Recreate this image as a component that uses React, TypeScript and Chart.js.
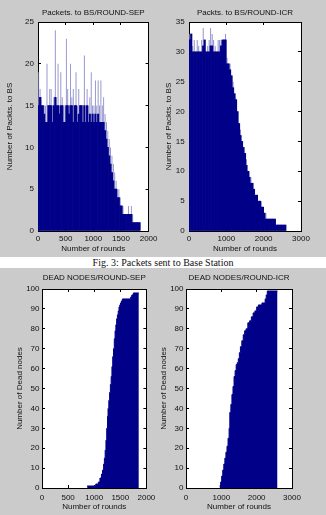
import React, { useEffect, useRef } from "react";
import { Chart, registerables } from "chart.js";

Chart.register(...registerables);

// ---------------- data ----------------
// Packets to BS per round, SEP (bins of 25 rounds; darkest = lowest count in bin, light = highest)
const sepBinStart = [
  0, 25, 50, 75, 100, 125, 150, 175, 200, 225,
  250, 275, 300, 325, 350, 375, 400, 425, 450, 475,
  500, 525, 550, 575, 600, 625, 650, 675, 700, 725,
  750, 775, 800, 825, 850, 875, 900, 925, 950, 975,
  1000, 1025, 1050, 1075, 1100, 1125, 1150, 1175, 1200, 1225,
  1250, 1275, 1300, 1325, 1350, 1375, 1400, 1425, 1450, 1475,
  1500, 1525, 1550, 1575, 1600, 1625, 1650, 1675, 1700, 1725,
  1750, 1775, 1800, 1825,
];
const sepPacketsMin = [
  15, 16, 15, 15, 14, 13, 13, 15, 15, 15,
  13, 15, 16, 15, 15, 14, 15, 15, 13, 13,
  15, 15, 14, 15, 15, 13, 15, 15, 13, 14,
  15, 15, 13, 15, 13, 15, 13, 14, 13, 14,
  13, 14, 13, 14, 13, 13, 13, 13, 12, 11,
  10, 9, 8, 7, 6, 5, 5, 4, 4, 3,
  3, 2, 2, 2, 2, 2, 2, 2, 1, 1,
  1, 1, 1, 1,
];
const sepPacketsMax = [
  19, 17, 16, 15, 15, 15, 20, 15, 17, 17,
  15, 16, 24, 16, 20, 15, 19, 16, 15, 15,
  23, 17, 15, 20, 16, 17, 15, 19, 15, 17,
  15, 15, 15, 21, 15, 17, 15, 16, 19, 15,
  15, 18, 15, 18, 15, 18, 15, 16, 14, 13,
  12, 11, 10, 9, 8, 7, 6, 5, 5, 4,
  3, 3, 2, 2, 2, 3, 2, 3, 2, 1,
  1, 1, 1, 1,
];
const sepBinWidth = 25;

// Packets to BS per round, ICR (bins of 40 rounds)
const icrBinStart = [
  0, 40, 80, 120, 160, 200, 240, 280, 320, 360,
  400, 440, 480, 520, 560, 600, 640, 680, 720, 760,
  800, 840, 880, 920, 960, 1000, 1040, 1080, 1120, 1160,
  1200, 1240, 1280, 1320, 1360, 1400, 1440, 1480, 1520, 1560,
  1600, 1640, 1680, 1720, 1760, 1800, 1840, 1880, 1920, 1960,
  2000, 2040, 2080, 2120, 2160, 2200, 2240, 2280, 2320, 2360,
  2400, 2440, 2480, 2520, 2560,
];
const icrPacketsMin = [
  32, 33, 30, 30, 30, 30, 30, 30, 30, 31,
  32, 30, 30, 30, 31, 31, 30, 30, 30, 30,
  30, 31, 32, 32, 32, 28, 28, 27, 26, 24,
  23, 22, 20, 18, 16, 15, 14, 13, 11, 10,
  9, 8, 8, 7, 6, 6, 5, 5, 4, 4,
  3, 2, 2, 2, 2, 2, 2, 2, 1, 1,
  1, 1, 1, 1, 1,
];
const icrPacketsMax = [
  33, 33, 31, 32, 30, 32, 31, 30, 32, 34,
  32, 30, 31, 32, 34, 33, 32, 31, 30, 32,
  32, 32, 32, 32, 33, 29, 28, 28, 26, 25,
  23, 22, 20, 18, 17, 15, 14, 13, 12, 10,
  10, 9, 8, 7, 6, 6, 5, 5, 5, 4,
  3, 3, 2, 2, 2, 2, 2, 2, 1, 1,
  1, 1, 1, 1, 1,
];
const icrBinWidth = 40;

// Dead nodes vs round
const sepDeadRounds = [
  865, 1030, 1080, 1110, 1140, 1160, 1180, 1195, 1210, 1225,
  1240, 1255, 1265, 1280, 1295, 1310, 1325, 1340, 1355, 1370,
  1385, 1400, 1415, 1430, 1445, 1460, 1475, 1490, 1505, 1520,
  1540, 1700, 1720, 1750, 1855,
];
const sepDeadNodes = [
  1, 2, 3, 5, 7, 9, 12, 15, 19, 24,
  30, 36, 40, 44, 48, 52, 56, 61, 66, 70,
  75, 79, 82, 85, 87, 89, 91, 92, 93, 94,
  95, 96, 97, 98, 98,
];
const icrDeadRounds = [
  950, 980, 1010, 1040, 1070, 1100, 1130, 1160, 1190, 1220,
  1240, 1270, 1300, 1330, 1360, 1390, 1420, 1450, 1480, 1510,
  1540, 1580, 1620, 1660, 1700, 1750, 1800, 1850, 1900, 1950,
  2000, 2050, 2100, 2150, 2200, 2240, 2270, 2300, 2590,
];
const icrDeadNodes = [
  1, 3, 6, 9, 12, 15, 18, 21, 25, 30,
  38, 42, 47, 51, 56, 59, 62, 63, 65, 68,
  71, 74, 77, 79, 80, 83, 84, 86, 88, 89,
  91, 92, 92, 93, 93, 95, 97, 99, 99,
];

// tick labels
const sepRoundTicks = [0, 500, 1000, 1500, 2000];
const icrRoundTicks = [0, 1000, 2000, 3000];
const sepPacketTicks = [0, 5, 10, 15, 20, 25];
const icrPacketTicks = [0, 5, 10, 15, 20, 25, 30, 35];
const deadTicks = [0, 10, 20, 30, 40, 50, 60, 70, 80, 90, 100];

// ---------------- styles ----------------
const GRAY = "#cbcbcb";
const NAVY = "#000088";
const LIGHT = "#8484c6";
const INK = "#111111";
const SANS = "'Liberation Sans', Arial, Helvetica, sans-serif";
const font8 = { family: SANS, size: 8 };

type Layout = {
  left: number; top: number; w: number; h: number;
  yW: number; y2W: number; x2H: number; xH: number;
  yTickPad: number; yTitlePad: number; xTickPad: number; xTitlePad: number; titlePad: number;
};

type Spec = {
  id: string; title: string; yTitle: string;
  xMax: number; yMax: number; xTicks: number[]; yTicks: number[];
  type: "bar" | "line"; datasets: any[]; layout: Layout;
};

const barSets = (starts: number[], w: number, mins: number[], maxs: number[]) => [
  {
    label: "min",
    data: starts.map((s, i) => ({ x: s + w / 2, y: mins[i] })),
    backgroundColor: NAVY, borderWidth: 0, grouped: false, order: 0,
    barPercentage: 1, categoryPercentage: 1,
  },
  {
    label: "max",
    data: starts.map((s, i) => ({ x: s + w / 2, y: maxs[i] })),
    backgroundColor: LIGHT, borderWidth: 0, grouped: false, order: 1,
    barPercentage: 0.6, categoryPercentage: 1,
  },
];

const stepSet = (rounds: number[], nodes: number[]) => [
  {
    label: "dead",
    data: rounds.map((r, i) => ({ x: r, y: nodes[i] })),
    stepped: true, fill: "origin",
    backgroundColor: NAVY, borderColor: NAVY, borderWidth: 1, pointRadius: 0,
  },
];

const specs: Spec[] = [
  {
    id: "a", title: "Packets. to BS/ROUND-SEP", yTitle: "Number of Packts. to BS",
    xMax: 2000, yMax: 25, xTicks: sepRoundTicks, yTicks: sepPacketTicks, type: "bar",
    datasets: barSets(sepBinStart, sepBinWidth, sepPacketsMin, sepPacketsMax),
    layout: { left: 0, top: 0, w: 163, h: 257, yW: 38, y2W: 13, x2H: 22, xH: 26,
      yTickPad: 7, yTitlePad: 4.7, xTickPad: 5.5, xTitlePad: 3.9, titlePad: 7.9 },
  },
  {
    id: "b", title: "Packts. to BS/ROUND-ICR", yTitle: "Number of Packts. to BS",
    xMax: 3000, yMax: 35, xTicks: icrRoundTicks, yTicks: icrPacketTicks, type: "bar",
    datasets: barSets(icrBinStart, icrBinWidth, icrPacketsMin, icrPacketsMax),
    layout: { left: 155, top: 0, w: 171, h: 257, yW: 34, y2W: 25, x2H: 22, xH: 26,
      yTickPad: 7.3, yTitlePad: 9.2, xTickPad: 5.5, xTitlePad: 3.9, titlePad: 7.9 },
  },
  {
    id: "c", title: "DEAD NODES/ROUND-SEP", yTitle: "Number of Dead nodes",
    xMax: 2000, yMax: 100, xTicks: sepRoundTicks, yTicks: deadTicks, type: "line",
    datasets: stepSet(sepDeadRounds, sepDeadNodes),
    layout: { left: 0, top: 268, w: 163, h: 247, yW: 42, y2W: 16, x2H: 21, xH: 27,
      yTickPad: 5.5, yTitlePad: 15.2, xTickPad: 7.7, xTitlePad: 3.5, titlePad: 5.2 },
  },
  {
    id: "d", title: "DEAD NODES/ROUND-ICR", yTitle: "Number of Dead nodes",
    xMax: 3000, yMax: 100, xTicks: icrRoundTicks, yTicks: deadTicks, type: "line",
    datasets: stepSet(icrDeadRounds, icrDeadNodes),
    layout: { left: 150, top: 268, w: 176, h: 247, yW: 36, y2W: 34, x2H: 21, xH: 27,
      yTickPad: 5.5, yTitlePad: 8.9, xTickPad: 7.7, xTitlePad: 3.5, titlePad: 5.2 },
  },
];

const whiteArea = {
  id: "whiteArea",
  beforeDraw(chart: any) {
    const { ctx, chartArea } = chart;
    ctx.save();
    ctx.fillStyle = "#ffffff";
    ctx.fillRect(chartArea.left, chartArea.top, chartArea.width, chartArea.height);
    ctx.restore();
  },
};

const gridCfg = {
  display: true, drawOnChartArea: false, drawTicks: true, tickLength: -3,
  color: "#000000", lineWidth: 1, offset: false,
};
const borderCfg = { display: true, color: "#000000", width: 1 };
const setTicks = (vals: number[]) => (s: any) => {
  s.ticks = vals.map((v) => ({ value: v }));
};
const plain = (v: any) => String(v);

function buildConfig(spec: Spec): any {
  const L = spec.layout;
  return {
    type: spec.type,
    data: { datasets: spec.datasets },
    plugins: [whiteArea],
    options: {
      responsive: false,
      maintainAspectRatio: false,
      animation: false,
      devicePixelRatio: 1,
      events: [],
      layout: { padding: 0 },
      plugins: { legend: { display: false }, tooltip: { enabled: false }, title: { display: false } },
      scales: {
        x: {
          type: "linear", position: "bottom", min: 0, max: spec.xMax, offset: false, z: 1,
          afterBuildTicks: setTicks(spec.xTicks),
          afterFit: (s: any) => { s.height = L.xH; },
          ticks: { autoSkip: false, maxRotation: 0, minRotation: 0, padding: L.xTickPad, color: INK, font: font8, callback: plain },
          grid: gridCfg, border: borderCfg,
          title: { display: true, text: "Number of rounds", color: INK, font: font8, padding: { top: 0, bottom: L.xTitlePad } },
        },
        x2: {
          type: "linear", position: "top", min: 0, max: spec.xMax, offset: false, z: 1,
          afterBuildTicks: setTicks(spec.xTicks),
          afterFit: (s: any) => { s.height = L.x2H; },
          ticks: { display: false },
          grid: gridCfg, border: borderCfg,
          title: { display: true, text: spec.title, color: INK, font: font8, padding: { top: L.titlePad, bottom: 0 } },
        },
        y: {
          type: "linear", position: "left", min: 0, max: spec.yMax, z: 1,
          afterBuildTicks: setTicks(spec.yTicks),
          afterFit: (s: any) => { s.width = L.yW; },
          ticks: { autoSkip: false, padding: L.yTickPad, color: INK, font: font8, callback: plain },
          grid: gridCfg, border: borderCfg,
          title: { display: true, text: spec.yTitle, color: INK, font: font8, padding: { top: L.yTitlePad, bottom: 0 } },
        },
        y2: {
          type: "linear", position: "right", min: 0, max: spec.yMax, z: 1,
          afterBuildTicks: setTicks(spec.yTicks),
          afterFit: (s: any) => { s.width = L.y2W; },
          ticks: { display: false },
          grid: gridCfg, border: borderCfg,
        },
      },
    },
  };
}

function Plot({ spec }: { spec: Spec }) {
  const ref = useRef<HTMLCanvasElement | null>(null);
  useEffect(() => {
    if (!ref.current) return;
    const chart = new Chart(ref.current, buildConfig(spec));
    return () => chart.destroy();
  }, [spec]);
  const L = spec.layout;
  return (
    <canvas
      ref={ref}
      width={L.w}
      height={L.h}
      style={{ position: "absolute", left: L.left, top: L.top, width: L.w, height: L.h }}
    />
  );
}

export default function App() {
  return (
    <div style={{ position: "absolute", left: 0, top: 0, width: 326, height: 515, background: "#ffffff", overflow: "hidden" }}>
      <div style={{ position: "absolute", left: 0, top: 0, width: 326, height: 257, background: GRAY }} />
      <div style={{ position: "absolute", left: 0, top: 268, width: 326, height: 247, background: GRAY }} />
      <div
        style={{
          position: "absolute", left: 0, top: 257, width: 326, height: 11, lineHeight: "11px",
          textAlign: "center", fontFamily: "'Liberation Serif', 'Times New Roman', serif", fontSize: 10, color: "#111",
        }}
      >
        Fig. 3: Packets sent to Base Station
      </div>
      {specs.map((s) => (
        <Plot key={s.id} spec={s} />
      ))}
    </div>
  );
}
